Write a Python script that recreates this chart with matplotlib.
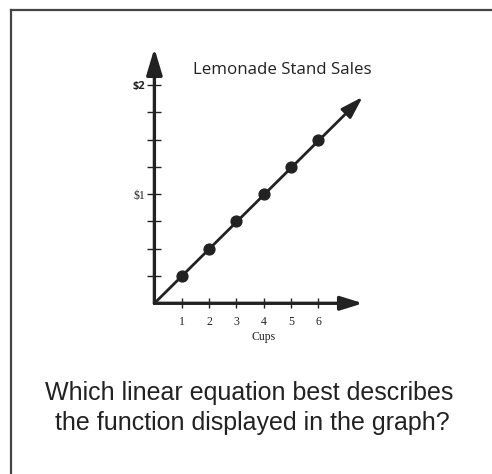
import matplotlib
matplotlib.use("Agg")
import matplotlib.pyplot as plt
from matplotlib.lines import Line2D

# ---- data ----
cups = [1, 2, 3, 4, 5, 6]
sales = [0.25, 0.50, 0.75, 1.00, 1.25, 1.50]
y_ticks = [0.25, 0.50, 0.75, 1.00, 1.25, 1.50, 1.75, 2.00]
y_tick_labels = ["", "", "", "$1", "", "", "", "$2"]
x_tick_labels = ["1", "2", "3", "4", "5", "6"]
title = "Lemonade Stand Sales"
x_label = "Cups"
question = ["Which linear equation best describes",
            "the function displayed in the graph?"]
line_end = (7.63, 1.89)   # extent of the drawn trend line (cups, dollars)
x_axis_end = 7.64
y_axis_end = 2.335

W, H, DPI = 492, 474, 100
fig = plt.figure(figsize=(W / DPI, H / DPI), dpi=DPI)
fig.patch.set_facecolor("white")

def fx(px):
    return px / W

def fy(py):
    return 1 - py / H

# frame (left and top only visible)
fig.add_artist(Line2D([fx(10.5), fx(10.5)], [fy(9.5), 0], color="#444444", lw=1.6))
fig.add_artist(Line2D([fx(10.5), 1], [fy(9.5), fy(9.5)], color="#444444", lw=1.6))

# axes: origin at pixel (154.4, 303.3); 27.3 px per cup, 109.2 px per dollar
ox, oy = 154.4, 303.3
xmax, ymax = 8.0, 2.4
ax = fig.add_axes([fx(ox), fy(oy), 27.3 * xmax / W, 109.2 * ymax / H])
ax.set_xlim(0, xmax)
ax.set_ylim(0, ymax)
for s in ax.spines.values():
    s.set_visible(False)
ax.patch.set_alpha(0)

ink = "#222222"
# axis arrows
ax.annotate("", xy=(x_axis_end, 0), xytext=(0, 0),
            arrowprops=dict(arrowstyle="-|>,head_length=1.35,head_width=0.42",
                            color=ink, lw=2.4, shrinkA=0, shrinkB=0),
            annotation_clip=False)
ax.annotate("", xy=(0, y_axis_end), xytext=(0, 0),
            arrowprops=dict(arrowstyle="-|>,head_length=1.6,head_width=0.48",
                            color=ink, lw=2.4, shrinkA=0, shrinkB=0),
            annotation_clip=False)
# trend line
ax.annotate("", xy=line_end, xytext=(0, 0),
            arrowprops=dict(arrowstyle="-|>,head_length=1.35,head_width=0.42",
                            color=ink, lw=2.0, shrinkA=0, shrinkB=0),
            annotation_clip=False)
ax.plot(cups, sales, "o", color=ink, markersize=7.8, zorder=5)

# ticks
ax.set_xticks(cups)
ax.set_xticklabels(x_tick_labels)
ax.set_yticks(y_ticks)
ax.set_yticklabels(y_tick_labels)
ax.tick_params(axis="x", direction="inout", length=7.5, width=1.0, color=ink,
               pad=5.5, labelsize=8.5, labelcolor=ink)
ax.tick_params(axis="y", direction="inout", length=10.5, width=1.0, color=ink,
               pad=1.5, labelsize=8, labelcolor=ink)
for lab in ax.get_xticklabels():
    lab.set_fontfamily("Liberation Serif")
for lab in ax.get_yticklabels():
    if lab.get_text() == "$1":
        lab.set_fontfamily("Liberation Serif")
        lab.set_fontsize(8.5)
    else:
        lab.set_fontfamily("Open Sans")
        lab.set_fontweight("bold")
ax.set_xlabel(x_label, fontsize=8.5, family="Liberation Serif", color=ink, labelpad=2)

# title
fig.text(fx(282), fy(70), title, ha="center", va="center",
         fontsize=12.2, family="Open Sans", color="#222222")

# question
fig.text(fx(249), fy(393), question[0], ha="center", va="center",
         fontsize=18, family="Liberation Sans", color="#222222")
fig.text(fx(252.5), fy(423), question[1], ha="center", va="center",
         fontsize=18, family="Liberation Sans", color="#222222")

fig.savefig("out.png", dpi=DPI, facecolor="white")
